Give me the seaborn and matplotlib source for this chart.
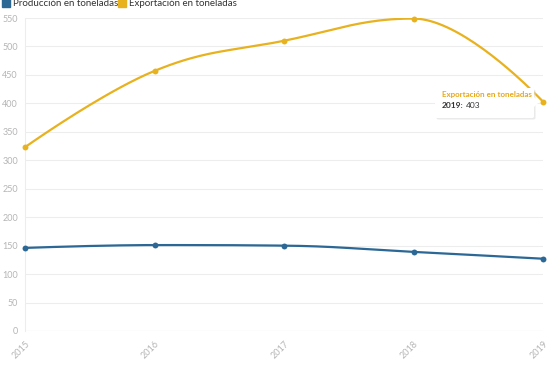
import numpy as np
import pandas as pd
import matplotlib
matplotlib.use("Agg")
import matplotlib.pyplot as plt
import seaborn as sns
from matplotlib.patches import FancyBboxPatch, Rectangle, Polygon

years = [2015, 2016, 2017, 2018, 2019]
produccion = [146, 151, 150, 139, 127]
exportacion = [323, 457, 510, 549, 403]
series_names = ["Producción en toneladas", "Exportación en toneladas"]
colors = ["#2b6895", "#e8b11e"]
y_ticks = list(range(0, 551, 50))


def spline(xs, ys, n=40, smoothing=1.5):
    """Highcharts-style spline path through the given points."""
    xs = np.asarray(xs, float); ys = np.asarray(ys, float)
    m = len(xs)
    lc = [None] * m; rc = [None] * m
    for i in range(m):
        if 0 < i < m - 1:
            d = smoothing + 1
            lx = (smoothing * xs[i] + xs[i - 1]) / d
            ly = (smoothing * ys[i] + ys[i - 1]) / d
            rx = (smoothing * xs[i] + xs[i + 1]) / d
            ry = (smoothing * ys[i] + ys[i + 1]) / d
            corr = ((ry - ly) * (rx - xs[i])) / (rx - lx) + ys[i] - ry
            ly += corr; ry += corr
            if ly > ys[i - 1] and ly > ys[i]:
                ly = max(ys[i - 1], ys[i]); ry = 2 * ys[i] - ly
            elif ly < ys[i - 1] and ly < ys[i]:
                ly = min(ys[i - 1], ys[i]); ry = 2 * ys[i] - ly
            if ry > ys[i + 1] and ry > ys[i]:
                ry = max(ys[i + 1], ys[i]); ly = 2 * ys[i] - ry
            elif ry < ys[i + 1] and ry < ys[i]:
                ry = min(ys[i + 1], ys[i]); ly = 2 * ys[i] - ry
            lc[i] = (lx, ly); rc[i] = (rx, ry)
        else:
            lc[i] = (xs[i], ys[i]); rc[i] = (xs[i], ys[i])
    outx, outy = [], []
    t = np.linspace(0, 1, n)
    for i in range(m - 1):
        p0 = np.array([xs[i], ys[i]]); p1 = np.array(rc[i])
        p2 = np.array(lc[i + 1]); p3 = np.array([xs[i + 1], ys[i + 1]])
        b = ((1 - t) ** 3)[:, None] * p0 + (3 * (1 - t) ** 2 * t)[:, None] * p1 \
            + (3 * (1 - t) * t ** 2)[:, None] * p2 + (t ** 3)[:, None] * p3
        outx.extend(b[:, 0]); outy.extend(b[:, 1])
    return np.array(outx), np.array(outy)


sns.set_theme(style="white")
plt.rcParams['font.family'] = ['Lato', 'DejaVu Sans']

fig = plt.figure(figsize=(5.6, 3.67), dpi=100)
ax = fig.add_axes([25 / 560, 1 - 331 / 367, (543 - 25) / 560, (331 - 18) / 367])

for name, vals, col in zip(series_names, [produccion, exportacion], colors):
    cx, cy = spline(years, vals)
    curve = pd.DataFrame({"x": cx, "y": cy})
    sns.lineplot(data=curve, x="x", y="y", ax=ax, color=col, lw=1.6,
                 sort=False, estimator=None, zorder=3)
    pts = pd.DataFrame({"year": years, "value": vals})
    sns.scatterplot(data=pts, x="year", y="value", ax=ax, color=col, s=18,
                    edgecolor=col, linewidth=0, zorder=4, clip_on=False)

ax.set_xlim(2015, 2019)
ax.set_ylim(0, 550)
ax.set_yticks(y_ticks)
ax.set_xticks(years)
ax.set_xticklabels([str(y) for y in years], rotation=45, ha="right",
                   rotation_mode="anchor", fontsize=6.5, color="#b5b5b5")
ax.set_yticklabels([str(v) for v in y_ticks], fontsize=6.5, color="#b5b5b5")
ax.tick_params(axis="y", length=0, pad=5)
ax.tick_params(axis="x", length=0, pad=6)
ax.set_xlabel(""); ax.set_ylabel("")
ax.grid(axis="y", color="#ededed", lw=0.8)
ax.grid(axis="x", visible=False)
for s in ["top", "right", "bottom"]:
    ax.spines[s].set_visible(False)
ax.spines["left"].set_color("#ededed")
ax.spines["left"].set_linewidth(0.8)
ax.axhline(0, color="#e4e4e4", lw=0.8, zorder=1)

# legend (at the very top edge, as in reference)
fig.patches.append(Rectangle((2 / 560, 1 - 7 / 367), 8 / 560, 8 / 367,
                             transform=fig.transFigure, color=colors[0]))
fig.text(13 / 560, 1 - 3 / 367, series_names[0], fontsize=7, color="#333333",
         va="center", ha="left")
fig.patches.append(Rectangle((118 / 560, 1 - 7 / 367), 8 / 560, 8 / 367,
                             transform=fig.transFigure, color=colors[1]))
fig.text(129 / 560, 1 - 3 / 367, series_names[1], fontsize=7, color="#333333",
         va="center", ha="left")

# tooltip
x0, x1, y0, y1 = 435 / 560, 534 / 560, 1 - 118 / 367, 1 - 88 / 367
shadow = FancyBboxPatch((x0 + 1.5 / 560, y0 - 1.5 / 367), x1 - x0, y1 - y0,
                        boxstyle="round,pad=0,rounding_size=0.004",
                        transform=fig.transFigure, fc="#dddddd", ec="none",
                        alpha=0.6, zorder=9)
box = FancyBboxPatch((x0, y0), x1 - x0, y1 - y0,
                     boxstyle="round,pad=0,rounding_size=0.004",
                     transform=fig.transFigure, fc="white", ec="none", zorder=10)
arrow = Polygon([[x1, 1 - 97 / 367], [539 / 560, 1 - 102 / 367], [x1, 1 - 107 / 367]],
                closed=True, transform=fig.transFigure, fc="white", ec="none", zorder=10)
fig.patches.extend([shadow, box, arrow])
fig.text(442 / 560, 1 - 95 / 367, series_names[1], fontsize=5.8, color="#e8a81a",
         fontweight="bold", va="center", ha="left", zorder=11)
t1 = fig.text(442 / 560, 1 - 105 / 367, "2019:", fontsize=6, color="#333333",
              fontweight="bold", va="center", ha="left", zorder=11)
fig.canvas.draw()
bb = t1.get_window_extent()
fig.text((bb.x1 + 2) / 560, 1 - 105 / 367, "403", fontsize=6, color="#333333",
         va="center", ha="left", zorder=11)

fig.savefig("out.png", dpi=100)
